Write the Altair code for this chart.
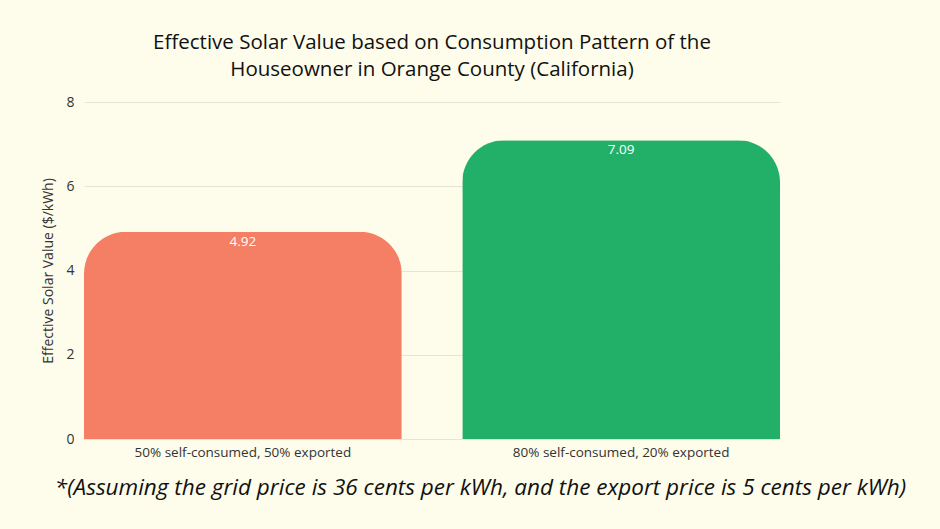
import altair as alt
import pandas as pd

categories = ["50% self-consumed, 50% exported", "80% self-consumed, 20% exported"]
values = [4.92, 7.09]
colors = ["#F47F64", "#22B068"]

df = pd.DataFrame({"cat": categories, "val": values, "color": colors})

FONT = "Open Sans"

base = alt.Chart(df).encode(
    x=alt.X("cat:N", sort=categories,
            scale=alt.Scale(paddingInner=0.16, paddingOuter=0),
            axis=alt.Axis(title="*(Assuming the grid price is 36 cents per kWh, and the export price is 5 cents per kWh)",
                          titleFont=FONT, titleFontSize=22.5, titleFontStyle="italic",
                          titleFontWeight="normal", titleColor="#111111", titlePadding=18,
                          titleX=396, titleAlign="center",
                          labelAngle=0, labelFont=FONT, labelFontSize=13.5, labelColor="#333333",
                          labelPadding=6, labelLimit=0, ticks=False, domain=False)),
    y=alt.Y("val:Q", scale=alt.Scale(domain=[0, 8]),
            axis=alt.Axis(title="Effective Solar Value ($/kWh)", values=[0, 2, 4, 6, 8],
                          titleFont=FONT, titleFontSize=14, titleFontWeight="normal",
                          titleColor="#333333", titlePadding=10,
                          labelFont=FONT, labelFontSize=14, labelColor="#333333", labelPadding=10,
                          ticks=False, domain=False, gridColor="#E6E4D6")),
)

bars = base.mark_bar(cornerRadiusTopLeft=42, cornerRadiusTopRight=42).encode(
    color=alt.Color("color:N", scale=None)
)

labels = base.mark_text(baseline="top", dy=3, color="white", font=FONT, fontSize=13.5).encode(
    text=alt.Text("val:Q", format=".2f")
)

chart = (bars + labels).properties(
    width=696, height=337,
    autosize=alt.AutoSizeParams(type="none"),
    padding={"left": 84, "top": 102, "right": 160, "bottom": 90},
    background="#FEFCEA",
    title=alt.Title(["Effective Solar Value based on Consumption Pattern of the",
                     "Houseowner in Orange County (California)"],
                    font=FONT, fontSize=20.5, fontWeight="normal", color="#111111",
                    anchor="middle", offset=15, lineHeight=27),
).configure_view(stroke=None)

chart.save("out.html", embed_options={"renderer": "svg", "actions": False})
